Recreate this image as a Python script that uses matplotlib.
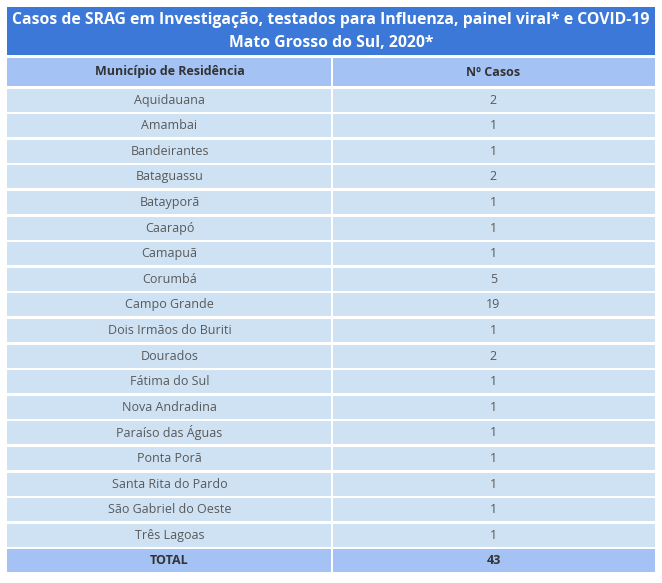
import matplotlib
matplotlib.use("Agg")
import matplotlib.pyplot as plt
from matplotlib.patches import Rectangle

plt.rcParams['font.family'] = ['Open Sans', 'DejaVu Sans']

title_lines = ["Casos de SRAG em Investigação, testados para Influenza, painel viral* e COVID-19",
               "Mato Grosso do Sul, 2020*"]
col_headers = ["Município de Residência", "Nº Casos"]
municipios = ["Aquidauana", "Amambai", "Bandeirantes", "Bataguassu", "Batayporã",
              "Caarapó", "Camapuã", "Corumbá", "Campo Grande", "Dois Irmãos do Buriti",
              "Dourados", "Fátima do Sul", "Nova Andradina", "Paraíso das Águas",
              "Ponta Porã", "Santa Rita do Pardo", "São Gabriel do Oeste", "Três Lagoas"]
casos = [2, 1, 1, 2, 1, 1, 1, 5, 19, 1, 2, 1, 1, 1, 1, 1, 1, 1]
total_label = "TOTAL"
total = 43

W, H = 662, 583
fig = plt.figure(figsize=(W / 100, H / 100), dpi=100)
ax = fig.add_axes([0, 0, 1, 1])
ax.set_xlim(0, W)
ax.set_ylim(H, 0)
ax.axis('off')

left, split, right = 7, 332, 655
gap = 2.5
title_top, title_bot = 7, 55
head_top, head_bot = 58, 86
pitch = 25.6

c_title = '#3c78d8'
c_head = '#a4c2f4'
c_row = '#cfe2f3'
c_text = '#595959'

# title block
ax.add_patch(Rectangle((left, title_top), right - left, title_bot - title_top, color=c_title, lw=0))
ax.text((left + right) / 2, 20, title_lines[0], ha='center', va='center',
        color='white', fontsize=11.3, fontweight='bold')
ax.text((left + right) / 2, 43, title_lines[1], ha='center', va='center',
        color='white', fontsize=11.3, fontweight='bold')

def cell_row(y0, y1, texts, color, weight, tcolor):
    ax.add_patch(Rectangle((left, y0), split - left - gap / 2, y1 - y0, color=color, lw=0))
    ax.add_patch(Rectangle((split + gap / 2, y0), right - split - gap / 2, y1 - y0, color=color, lw=0))
    yc = (y0 + y1) / 2
    ax.text((left + split) / 2, yc, texts[0], ha='center', va='center',
            color=tcolor, fontsize=9, fontweight=weight)
    ax.text((split + right) / 2, yc, texts[1], ha='center', va='center',
            color=tcolor, fontsize=9, fontweight=weight)

cell_row(head_top, head_bot, col_headers, c_head, 'bold', '#333333')

rows = list(zip(municipios, [str(c) for c in casos]))
for i, (m, c) in enumerate(rows):
    y0 = head_bot + gap + i * pitch
    cell_row(y0, y0 + pitch - gap, (m, c), c_row, 'normal', c_text)

y0 = head_bot + gap + len(rows) * pitch
cell_row(y0, y0 + pitch - gap, (total_label, str(total)), c_head, 'bold', '#333333')

fig.savefig('out.png', dpi=100)
